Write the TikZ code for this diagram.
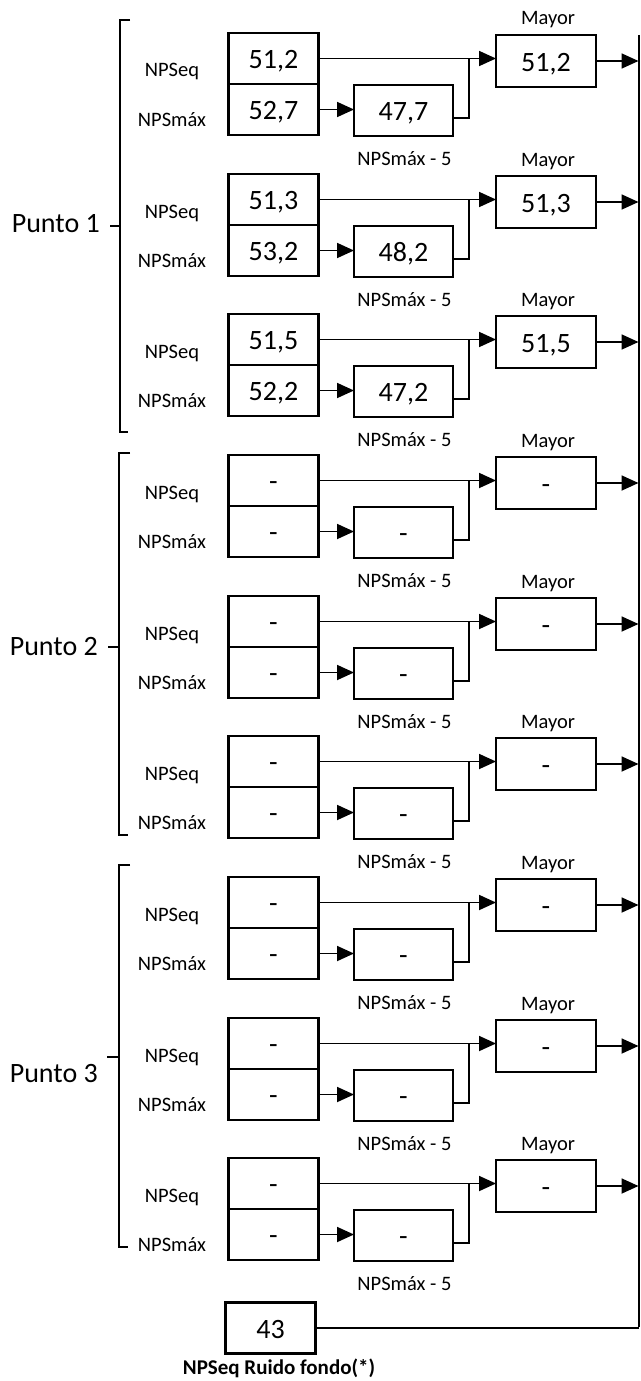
\documentclass[tikz,border=0pt]{standalone}
\usepackage{fontspec}
\setmainfont{Carlito}
\usetikzlibrary{arrows.meta}
\tikzset{
  box/.style={draw, line width=2.5pt, outer sep=0pt, inner sep=0pt,
    minimum height=51pt, text height=20pt, text depth=0pt,
    font=\fontsize{28}{30}\selectfont},
  valbox/.style={box, minimum width=90pt},
  lessbox/.style={box, minimum width=99pt},
  maxbox/.style={box, minimum width=100pt, minimum height=52pt},
  lbl/.style={anchor=base, inner sep=0pt, font=\fontsize{20.5}{22}\selectfont},
  punto/.style={anchor=base east, inner sep=0pt, font=\fontsize{28}{30}\selectfont},
  link/.style={line width=1.8pt},
  arr/.style={link, -{Triangle[length=17pt,width=15pt]}},
  brk/.style={line width=2pt},
}
\begin{document}
\begin{tikzpicture}[x=1pt,y=-1pt]
  \useasboundingbox (0,0) rectangle (640,1381);
  % Punto 1
  \draw
    (273.5,58.5) node[valbox] (a0){51,2}
    (273.5,109.5) node[valbox] (b0){52,7}
    (403.5,110.5) node[lessbox] (m0){47,7}
    (546,61) node[maxbox] (c0){51,2}
    (469,58.5) coordinate (j0)
    (273.5,199.5) node[valbox] (a1){51,3}
    (273.5,250.5) node[valbox] (b1){53,2}
    (403.5,251.5) node[lessbox] (m1){48,2}
    (546,202) node[maxbox] (c1){51,3}
    (469,199.5) coordinate (j1)
    (273.5,339.5) node[valbox] (a2){51,5}
    (273.5,390.5) node[valbox] (b2){52,2}
    (403.5,391.5) node[lessbox] (m2){47,2}
    (546,342) node[maxbox] (c2){51,5}
    (469,339.5) coordinate (j2);
  % Punto 2
  \draw
    (273.5,480.5) node[valbox] (a3){-}
    (273.5,531.5) node[valbox] (b3){-}
    (403.5,532.5) node[lessbox] (m3){-}
    (546,483) node[maxbox] (c3){-}
    (469,480.5) coordinate (j3)
    (273.5,621.5) node[valbox] (a4){-}
    (273.5,672.5) node[valbox] (b4){-}
    (403.5,673.5) node[lessbox] (m4){-}
    (546,624) node[maxbox] (c4){-}
    (469,621.5) coordinate (j4)
    (273.5,761.5) node[valbox] (a5){-}
    (273.5,812.5) node[valbox] (b5){-}
    (403.5,813.5) node[lessbox] (m5){-}
    (546,764) node[maxbox] (c5){-}
    (469,761.5) coordinate (j5);
  % Punto 3
  \draw
    (273.5,902.5) node[valbox] (a6){-}
    (273.5,953.5) node[valbox] (b6){-}
    (403.5,954.5) node[lessbox] (m6){-}
    (546,905) node[maxbox] (c6){-}
    (469,902.5) coordinate (j6)
    (273.5,1043.5) node[valbox] (a7){-}
    (273.5,1094.5) node[valbox] (b7){-}
    (403.5,1095.5) node[lessbox] (m7){-}
    (546,1046) node[maxbox] (c7){-}
    (469,1043.5) coordinate (j7)
    (273.5,1183.5) node[valbox] (a8){-}
    (273.5,1234.5) node[valbox] (b8){-}
    (403.5,1235.5) node[lessbox] (m8){-}
    (546,1186) node[maxbox] (c8){-}
    (469,1183.5) coordinate (j8);
  % ruido de fondo
  \draw
    (270.5,1328) node[valbox] (g){43}
    (279,1374) node[lbl, font=\fontsize{21}{23}\selectfont\bfseries] (gl){NPSeq Ruido fondo(*)}
    (638.5,35) coordinate (rt)
    (638.5,1327) coordinate (rb);
  % etiquetas
  \path
    (172,77) node[lbl] (eq0){NPSeq}   (172,126) node[lbl] (mx0){NPSmáx}
    (172,218) node[lbl] (eq1){NPSeq}  (172,267) node[lbl] (mx1){NPSmáx}
    (172,358) node[lbl] (eq2){NPSeq}  (172,407) node[lbl] (mx2){NPSmáx}
    (172,499) node[lbl] (eq3){NPSeq}  (172,548) node[lbl] (mx3){NPSmáx}
    (172,640) node[lbl] (eq4){NPSeq}  (172,689) node[lbl] (mx4){NPSmáx}
    (172,780) node[lbl] (eq5){NPSeq}  (172,829) node[lbl] (mx5){NPSmáx}
    (172,921) node[lbl] (eq6){NPSeq}  (172,970) node[lbl] (mx6){NPSmáx}
    (172,1062) node[lbl] (eq7){NPSeq} (172,1111) node[lbl] (mx7){NPSmáx}
    (172,1202) node[lbl] (eq8){NPSeq} (172,1251) node[lbl] (mx8){NPSmáx};
  \path
    (548,25) node[lbl] (my0){Mayor}    (404.5,165) node[lbl] (n0){NPSmáx - 5}
    (548,166) node[lbl] (my1){Mayor}   (404.5,306) node[lbl] (n1){NPSmáx - 5}
    (548,306) node[lbl] (my2){Mayor}   (404.5,446) node[lbl] (n2){NPSmáx - 5}
    (548,447) node[lbl] (my3){Mayor}   (404.5,587) node[lbl] (n3){NPSmáx - 5}
    (548,588) node[lbl] (my4){Mayor}   (404.5,728) node[lbl] (n4){NPSmáx - 5}
    (548,728) node[lbl] (my5){Mayor}   (404.5,868) node[lbl] (n5){NPSmáx - 5}
    (548,869) node[lbl] (my6){Mayor}   (404.5,1009) node[lbl] (n6){NPSmáx - 5}
    (548,1010) node[lbl] (my7){Mayor}  (404.5,1150) node[lbl] (n7){NPSmáx - 5}
    (548,1150) node[lbl] (my8){Mayor}  (404.5,1290) node[lbl] (n8){NPSmáx - 5};
  \path
    (100,232) node[punto] (p1){Punto 1}
    (98,655) node[punto] (p2){Punto 2}
    (98,1082) node[punto] (p3){Punto 3};
  % llaves
  \draw[brk] (130,20) -- (120,20) -- (120,432) -- (128,432);
  \draw[brk] (120,226) -- (110,226);
  \draw[brk] (130,453) -- (119,453) -- (119,835) -- (128,835);
  \draw[brk] (119,647) -- (108,647);
  \draw[brk] (130,865) -- (119,865) -- (119,1247) -- (128,1247);
  \draw[brk] (119,1057) -- (107,1057);
  % conexiones
  \begin{scope}[link]
    \draw[arr] (a0.east) -- (a0.east -| c0.west);
    \draw[arr] (b0.east) -- (b0.east -| m0.west);
    \draw ([yshift=-7.5pt]m0.east) -| (j0);
    \draw[arr] (c0.east) -- (c0.east -| rt);
    \draw[arr] (a1.east) -- (a1.east -| c1.west);
    \draw[arr] (b1.east) -- (b1.east -| m1.west);
    \draw ([yshift=-7.5pt]m1.east) -| (j1);
    \draw[arr] (c1.east) -- (c1.east -| rt);
    \draw[arr] (a2.east) -- (a2.east -| c2.west);
    \draw[arr] (b2.east) -- (b2.east -| m2.west);
    \draw ([yshift=-7.5pt]m2.east) -| (j2);
    \draw[arr] (c2.east) -- (c2.east -| rt);
    \draw[arr] (a3.east) -- (a3.east -| c3.west);
    \draw[arr] (b3.east) -- (b3.east -| m3.west);
    \draw ([yshift=-7.5pt]m3.east) -| (j3);
    \draw[arr] (c3.east) -- (c3.east -| rt);
    \draw[arr] (a4.east) -- (a4.east -| c4.west);
    \draw[arr] (b4.east) -- (b4.east -| m4.west);
    \draw ([yshift=-7.5pt]m4.east) -| (j4);
    \draw[arr] (c4.east) -- (c4.east -| rt);
    \draw[arr] (a5.east) -- (a5.east -| c5.west);
    \draw[arr] (b5.east) -- (b5.east -| m5.west);
    \draw ([yshift=-7.5pt]m5.east) -| (j5);
    \draw[arr] (c5.east) -- (c5.east -| rt);
    \draw[arr] (a6.east) -- (a6.east -| c6.west);
    \draw[arr] (b6.east) -- (b6.east -| m6.west);
    \draw ([yshift=-7.5pt]m6.east) -| (j6);
    \draw[arr] (c6.east) -- (c6.east -| rt);
    \draw[arr] (a7.east) -- (a7.east -| c7.west);
    \draw[arr] (b7.east) -- (b7.east -| m7.west);
    \draw ([yshift=-7.5pt]m7.east) -| (j7);
    \draw[arr] (c7.east) -- (c7.east -| rt);
    \draw[arr] (a8.east) -- (a8.east -| c8.west);
    \draw[arr] (b8.east) -- (b8.east -| m8.west);
    \draw ([yshift=-7.5pt]m8.east) -| (j8);
    \draw[arr] (c8.east) -- (c8.east -| rt);
    \draw (g.east) -- (g.east -| rb);
    \draw[line width=2pt] (rt) -- (rb);
  \end{scope}
\end{tikzpicture}
\end{document}
